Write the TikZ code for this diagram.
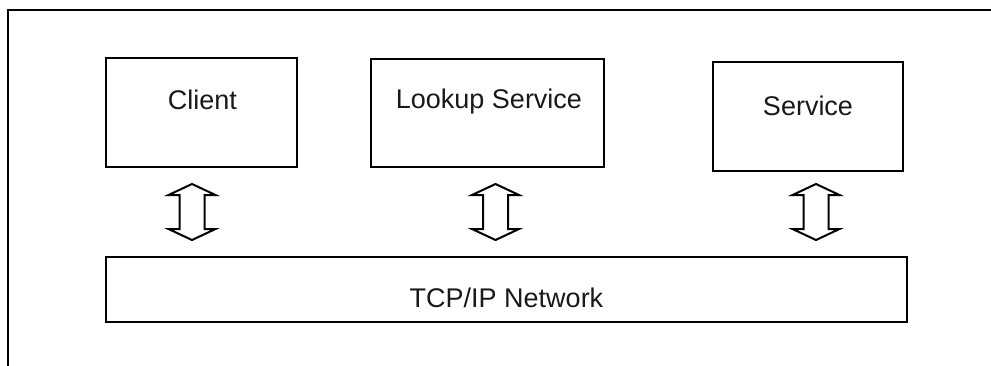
\documentclass[tikz,border=0pt]{standalone}
\usepackage{fontspec}
\setmainfont{Liberation Sans}
\begin{document}
\begin{tikzpicture}[x=1pt,y=-1pt,
  box/.style={draw, line width=2pt, inner sep=0pt},
  lbl/.style={anchor=base, inner sep=0pt, font=\fontsize{27}{32}\selectfont, text=black!90},
  frameline/.style={line width=2pt},
  updown/.pic={
    \draw[line width=2pt, line join=miter, fill=white]
      (0,-28) -- (23.5,-17) -- (12.5,-17) -- (12.5,17) -- (23.5,17) -- (0,28)
      -- (-23.5,17) -- (-12.5,17) -- (-12.5,-17) -- (-23.5,-17) -- cycle;
  }]
  \useasboundingbox (0,0) rectangle (991,365);

  % open frame: left and top edges only
  \coordinate (fb) at (8,366);
  \coordinate (fc) at (8,10);
  \coordinate (fr) at (992,10);
  \draw[frameline] (fb) -- (fc) -- (fr);

  % component boxes
  \node[box, minimum width=191pt, minimum height=109pt] (client) at (201.5,112.5) {};
  \node[box, minimum width=233pt, minimum height=108pt] (lookup) at (487.5,113) {};
  \node[box, minimum width=190pt, minimum height=109pt] (service) at (808,116.5) {};
  \node[box, minimum width=801pt, minimum height=65pt] (net) at (506.5,289.5) {};

  % labels
  \node[lbl] (tclient) at (202.5,109) {Client};
  \node[lbl] (tlookup) at (489,108) {Lookup Service};
  \node[lbl] (tservice) at (808,115) {Service};
  \node[lbl] (tnet) at (506.5,307) {TCP/IP Network};

  % two-way links between each component and the network
  \pic at (192,212) {updown};
  \pic at (495.5,212) {updown};
  \pic at (816,212) {updown};
\end{tikzpicture}
\end{document}
